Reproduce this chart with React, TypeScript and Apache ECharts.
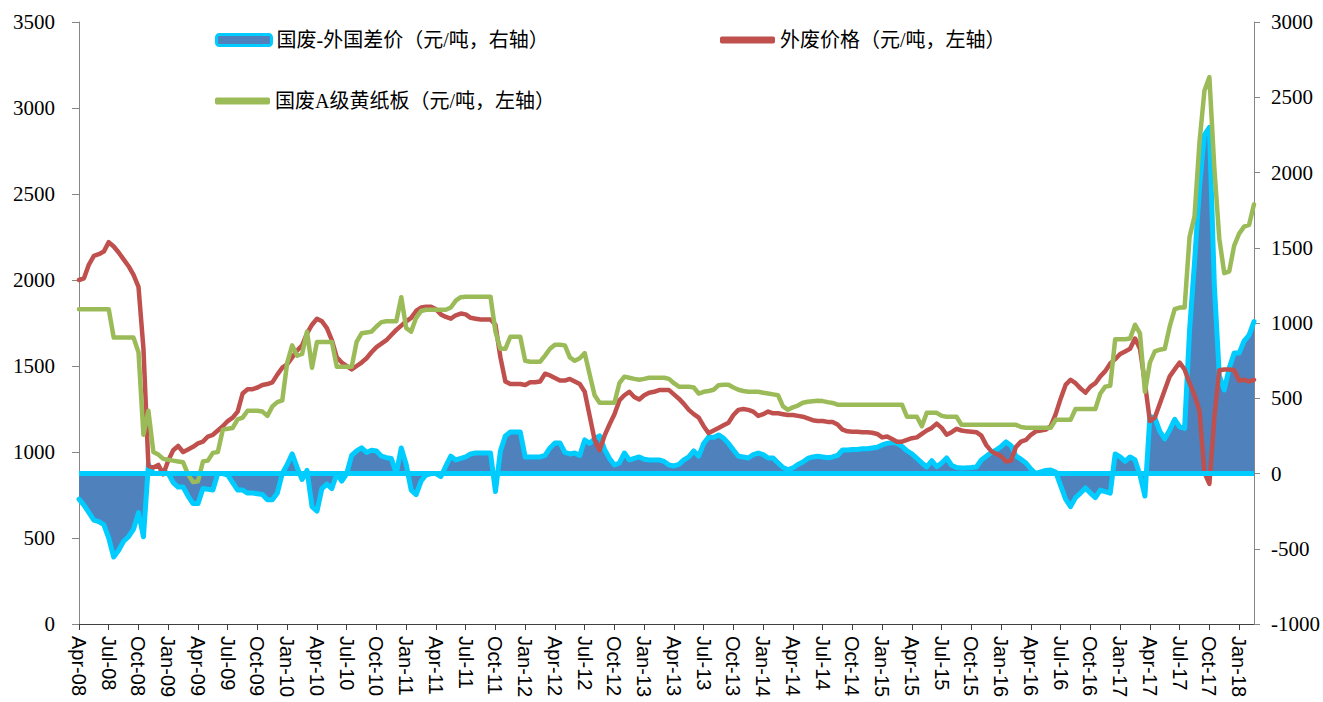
import React, { useEffect, useRef } from "react";
import * as echarts from "echarts";

// Tick labels on the x axis (every 3 months); data are semi-monthly.
const tickLabels = [
  "Apr-08", "Jul-08", "Oct-08", "Jan-09", "Apr-09", "Jul-09", "Oct-09", "Jan-10",
  "Apr-10", "Jul-10", "Oct-10", "Jan-11", "Apr-11", "Jul-11", "Oct-11", "Jan-12",
  "Apr-12", "Jul-12", "Oct-12", "Jan-13", "Apr-13", "Jul-13", "Oct-13", "Jan-14",
  "Apr-14", "Jul-14", "Oct-14", "Jan-15", "Apr-15", "Jul-15", "Oct-15", "Jan-16",
  "Apr-16", "Jul-16", "Oct-16", "Jan-17", "Apr-17", "Jul-17", "Oct-17", "Jan-18",
];

const nameSpread = "国废-外国差价（元/吨，右轴）";
const nameImport = "外废价格（元/吨，左轴）";
const nameDomestic = "国废A级黄纸板（元/吨，左轴）";

// 外废价格 (left axis)
const importPrice = [
  2000, 2010, 2090, 2140, 2150, 2165, 2220, 2195, 2160, 2120,
  2080, 2030, 1960, 1600, 920, 910, 925, 870, 950, 1010,
  1035, 1000, 1015, 1030, 1050, 1060, 1090, 1100, 1125, 1150,
  1180, 1200, 1235, 1340, 1365, 1365, 1375, 1390, 1395, 1405,
  1450, 1490, 1510, 1550, 1590, 1620, 1690, 1740, 1775, 1760,
  1720, 1650, 1550, 1520, 1500, 1480, 1500, 1520, 1545, 1580,
  1610, 1630, 1650, 1680, 1710, 1735, 1760, 1780, 1820, 1840,
  1845, 1845, 1830, 1800, 1785, 1775, 1795, 1805, 1800, 1780,
  1775, 1770, 1770, 1770, 1740, 1550, 1410, 1395, 1395, 1395,
  1390, 1405, 1405, 1410, 1455, 1445, 1430, 1415, 1415, 1425,
  1410, 1395, 1350, 1210, 1070, 1010, 1095, 1160, 1220, 1300,
  1330, 1350, 1320, 1305, 1330, 1345, 1350, 1360, 1360, 1360,
  1335, 1310, 1280, 1245, 1220, 1200, 1150, 1110, 1125, 1140,
  1155, 1170, 1215, 1245, 1250, 1245, 1235, 1210, 1220, 1235,
  1225, 1225, 1220, 1215, 1215, 1210, 1205, 1195, 1185, 1180,
  1180, 1175, 1175, 1160, 1130, 1120, 1118, 1118, 1115, 1115,
  1112, 1105, 1085, 1090, 1075, 1060, 1060, 1070, 1080, 1085,
  1105, 1125, 1140, 1165, 1140, 1100, 1115, 1135, 1125, 1120,
  1118, 1115, 1095, 1040, 1005, 990, 975, 945, 950, 1030,
  1060, 1070, 1100, 1120, 1125, 1130, 1150, 1220, 1310, 1390,
  1420, 1400, 1370, 1345, 1380, 1400, 1440, 1470, 1515, 1540,
  1570, 1585, 1600, 1660, 1600, 1400, 1180, 1200, 1280, 1360,
  1440, 1480, 1520, 1480, 1400, 1330, 1240, 880, 815, 1200,
  1475, 1480, 1480, 1475, 1415, 1420, 1410, 1420,
];

// 国废A级黄纸板 (left axis)
const domesticPrice = [
  1830, 1830, 1830, 1830, 1830, 1830, 1830, 1665, 1665, 1665,
  1665, 1665, 1580, 1100, 1240, 1000, 985, 960, 955, 950,
  945, 940, 870, 825, 830, 945, 950, 995, 1000, 1130,
  1135, 1140, 1190, 1200, 1240, 1240, 1240, 1235, 1210, 1265,
  1290, 1300, 1520, 1620, 1560, 1570, 1700, 1490, 1640, 1640,
  1640, 1640, 1495, 1495, 1495, 1495, 1640, 1690, 1695, 1700,
  1730, 1755, 1760, 1760, 1760, 1900, 1720, 1700, 1780, 1820,
  1827, 1827, 1827, 1827, 1827, 1840, 1880, 1900, 1903, 1903,
  1903, 1903, 1903, 1903, 1700, 1600, 1600, 1670, 1670, 1670,
  1530, 1525, 1525, 1525, 1560, 1600, 1624, 1624, 1620, 1550,
  1530, 1545, 1575, 1450, 1330, 1286, 1286, 1286, 1286, 1400,
  1438, 1432, 1425, 1420, 1425, 1432, 1432, 1432, 1432, 1425,
  1400, 1380, 1380, 1380, 1375, 1340, 1350, 1355, 1362, 1388,
  1391, 1391, 1375, 1362, 1355, 1350, 1350, 1350, 1345, 1340,
  1335, 1330, 1265, 1245, 1260, 1270, 1286, 1292, 1295, 1298,
  1296, 1290, 1285, 1275, 1275, 1275, 1275, 1275, 1275, 1275,
  1275, 1275, 1275, 1275, 1275, 1275, 1275, 1205, 1205, 1205,
  1150, 1228, 1228, 1228, 1210, 1205, 1205, 1205, 1158, 1158,
  1158, 1158, 1158, 1158, 1158, 1158, 1158, 1158, 1158, 1158,
  1145, 1141, 1141, 1141, 1141, 1141, 1141, 1187, 1187, 1187,
  1187, 1250, 1250, 1250, 1250, 1250, 1340, 1380, 1385, 1655,
  1655, 1655, 1660, 1740, 1690, 1350, 1520, 1585, 1595, 1600,
  1730, 1830, 1840, 1840, 2250, 2370, 2800, 3100, 3180, 2650,
  2240, 2040, 2050, 2200, 2270, 2310, 2320, 2440,
];

// 国废-外国差价 (right axis)
const spread = [
  -170, -210, -260, -310, -320, -340, -430, -555, -510, -450,
  -420, -370, -260, -420, 60, 0, 0, 10, 0, -60,
  -90, -90, -150, -200, -200, -100, -105, -110, 0, 0,
  -10, -60, -110, -110, -130, -130, -135, -140, -175, -175,
  -130, 0, 60, 130, 40, -40, 20, -220, -250, -100,
  -70, -100, 0, -50, 0, 120, 150, 170, 140, 155,
  150, 115, 105, 100, 0, 170, 60, -110, -140, -50,
  -10, 0, 0, -20, 50, 115, 90, 100, 110, 130,
  136, 136, 136, 136, -120, 150, 250, 275, 276, 276,
  110, 110, 110, 110, 120, 170, 203, 203, 140, 130,
  136, 120, 223, 200, 230, 250, 160, 100, 56, 70,
  136, 90, 100, 110, 95, 90, 90, 90, 80, 56,
  50, 60, 90, 110, 150, 115, 200, 243, 240, 256,
  235, 200, 156, 115, 110, 103, 125, 136, 125, 103,
  103, 70, 40, 25, 37, 60, 76, 100, 110, 115,
  110, 105, 110, 120, 156, 156, 160, 160, 165, 165,
  170, 175, 190, 200, 205, 200, 180, 150, 130, 100,
  70, 43, 85, 45, 70, 103, 55, 40, 37, 38,
  40, 43, 90, 115, 140, 156, 180, 210, 185, 115,
  95, 70, 30, 0, 10, 20, 23, 10, -80, -170,
  -220, -160, -130, -96, -130, -160, -110, -120, -130, 130,
  110, 80, 110, 90, -10, -150, 380, 370, 280, 230,
  290, 360, 310, 300, 950, 1400, 1900, 2250, 2300, 1250,
  650, 555, 700, 800, 800, 880, 920, 1010,
];

const periods = spread.map((_, i) => {
  const base = tickLabels[Math.min(Math.floor(i / 6), tickLabels.length - 1)];
  return i % 6 === 0 ? base : `${base}#${i % 6}`;
});

const serifFont = "'Liberation Serif', 'Times New Roman', 'Noto Sans CJK SC', serif";
const legendText = {
  fontSize: 20,
  color: "#000",
  fontFamily: "'Liberation Serif', 'Noto Sans CJK SC', serif",
};
const plainNumber = (v: number) => String(v);

export default function App() {
  const ref = useRef<HTMLDivElement>(null);

  useEffect(() => {
    if (!ref.current) return;
    const chart = echarts.init(ref.current, null, { renderer: "svg" });
    const option: any = {
      animation: false,
      backgroundColor: "#fff",
      grid: { left: 79, right: 68, top: 22, bottom: 78, containLabel: false },
      legend: [
        {
          left: 215, top: 30, padding: 0, itemWidth: 55, itemHeight: 11,
          textStyle: legendText, selectedMode: false,
          data: [{ name: nameSpread, icon: "roundRect",
            itemStyle: { color: "#4F81BD", borderColor: "#00CCFF", borderWidth: 3 } }],
        },
        {
          left: 720, top: 30, padding: 0, itemWidth: 55, itemHeight: 7,
          textStyle: legendText, selectedMode: false,
          data: [{ name: nameImport, icon: "roundRect", itemStyle: { color: "#C0504D" } }],
        },
        {
          left: 215, top: 91, padding: 0, itemWidth: 55, itemHeight: 7,
          textStyle: legendText, selectedMode: false,
          data: [{ name: nameDomestic, icon: "roundRect", itemStyle: { color: "#9BBB59" } }],
        },
      ],
      xAxis: {
        type: "category",
        data: periods,
        boundaryGap: false,
        axisLine: { lineStyle: { color: "#404040", width: 1 } },
        axisTick: { interval: 5, length: 6, lineStyle: { color: "#404040" } },
        axisLabel: {
          interval: 5, rotate: -90, margin: 12, fontSize: 20, color: "#000",
          fontFamily: "'Liberation Sans', Arial, sans-serif",
          formatter: (v: string) => v.split("#")[0],
        },
        splitLine: { show: false },
      },
      yAxis: [
        {
          type: "value", min: 0, max: 3500, interval: 500, position: "left",
          axisLine: { show: true, lineStyle: { color: "#868686" } },
          axisTick: { show: true, length: 7, lineStyle: { color: "#868686" } },
          axisLabel: { fontSize: 21, color: "#000", fontFamily: serifFont, margin: 24, formatter: plainNumber },
          splitLine: { show: false },
        },
        {
          type: "value", min: -1000, max: 3000, interval: 500, position: "right",
          axisLine: { show: true, lineStyle: { color: "#868686" } },
          axisTick: { show: true, length: 6, lineStyle: { color: "#868686" } },
          axisLabel: { fontSize: 21, color: "#000", fontFamily: serifFont, margin: 17, formatter: plainNumber },
          splitLine: { show: false },
        },
      ],
      series: [
        {
          name: nameSpread, type: "line", yAxisIndex: 1, data: spread,
          symbol: "none", showSymbol: false,
          lineStyle: { color: "#00CCFF", width: 5, join: "round", cap: "round" },
          itemStyle: { color: "#4F81BD" },
          areaStyle: { color: "#4F81BD", opacity: 1 },
          markLine: {
            silent: true, symbol: "none", label: { show: false },
            lineStyle: { color: "#00CCFF", width: 5, type: "solid" },
            data: [{ yAxis: 0 }],
          },
        },
        {
          name: nameImport, type: "line", yAxisIndex: 0, data: importPrice,
          symbol: "none", showSymbol: false,
          lineStyle: { color: "#C0504D", width: 4.5, join: "round", cap: "round" },
          itemStyle: { color: "#C0504D" },
        },
        {
          name: nameDomestic, type: "line", yAxisIndex: 0, data: domesticPrice,
          symbol: "none", showSymbol: false,
          lineStyle: { color: "#9BBB59", width: 4.5, join: "round", cap: "round" },
          itemStyle: { color: "#9BBB59" },
        },
      ],
    };
    chart.setOption(option);
    return () => chart.dispose();
  }, []);

  return (
    <div
      ref={ref}
      style={{ position: "absolute", left: 0, top: 0, width: 1323, height: 702, background: "#fff" }}
    />
  );
}
